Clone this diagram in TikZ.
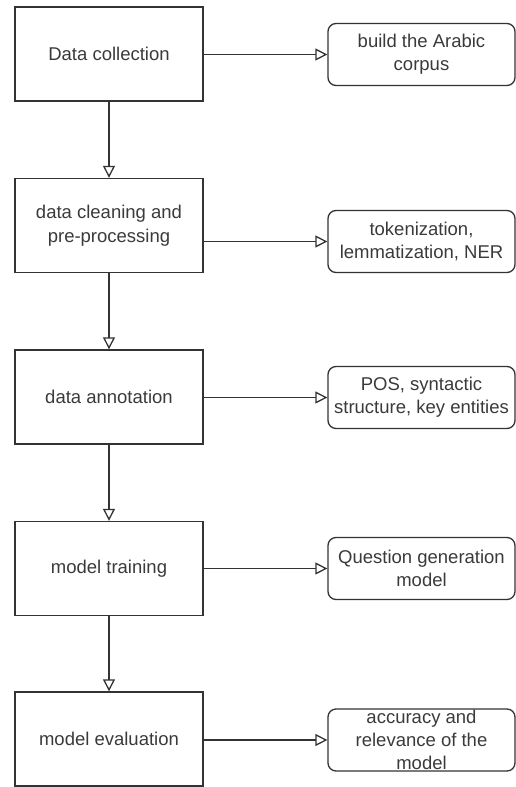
\documentclass[tikz,border=0pt]{standalone}
\usepackage{fontspec}
\setmainfont{Liberation Sans}
\usepackage{tikz}
\usetikzlibrary{arrows.meta,positioning}
\definecolor{linegray}{HTML}{333333}
\definecolor{textgray}{HTML}{3A3A3A}

\begin{document}
\begin{tikzpicture}[x=1pt, y=-1pt,
	stage/.style={draw=linegray, line width=1.4pt, minimum width=188pt,
		minimum height=94pt, align=center, text=textgray,
		font=\fontsize{18.5}{24}\selectfont},
	detail/.style={draw=linegray, line width=1.3pt, rounded corners=8pt,
		minimum width=187pt, minimum height=62pt, inner sep=0pt,
		align=center, text=textgray, font=\fontsize{18.5}{23}\selectfont},
	flow/.style={draw=linegray, line width=1.3pt,
		-{Triangle[open, length=12pt, width=12pt]}}]
	\useasboundingbox (0,0) rectangle (516,787);

	% pipeline stages
	\node[stage] (collect) at (109,54) {Data collection};
	\node[stage] (clean) at (109,225.5) {data cleaning and\\pre-processing};
	\node[stage] (annot) at (109,397) {data annotation};
	\node[stage] (train) at (109,568.5) {model training};
	\node[stage] (eval) at (109,739) {model evaluation};

	% what each stage gives
	\node[detail] (corpus) at (421.5,54.5) {build the Arabic\\corpus};
	\node[detail] (tok) at (421.5,241.5) {tokenization,\\lemmatization, NER};
	\node[detail] (pos) at (421.5,397.5) {POS, syntactic\\structure, key entities};
	\node[detail] (qgen) at (421.5,568.5) {Question generation\\model};
	\node[detail] (acc) at (421.5,740) {accuracy and\\relevance of the\\model};

	\draw[flow] (collect) -- (clean);
	\draw[flow] (clean) -- (annot);
	\draw[flow] (annot) -- (train);
	\draw[flow] (train) -- (eval);

	\draw[flow] (collect.east |- corpus.west) -- (corpus.west);
	\draw[flow] (clean.east |- tok.west) -- (tok.west);
	\draw[flow] (annot.east |- pos.west) -- (pos.west);
	\draw[flow] (train.east |- qgen.west) -- (qgen.west);
	\draw[flow] (eval.east |- acc.west) -- (acc.west);
\end{tikzpicture}
\end{document}
